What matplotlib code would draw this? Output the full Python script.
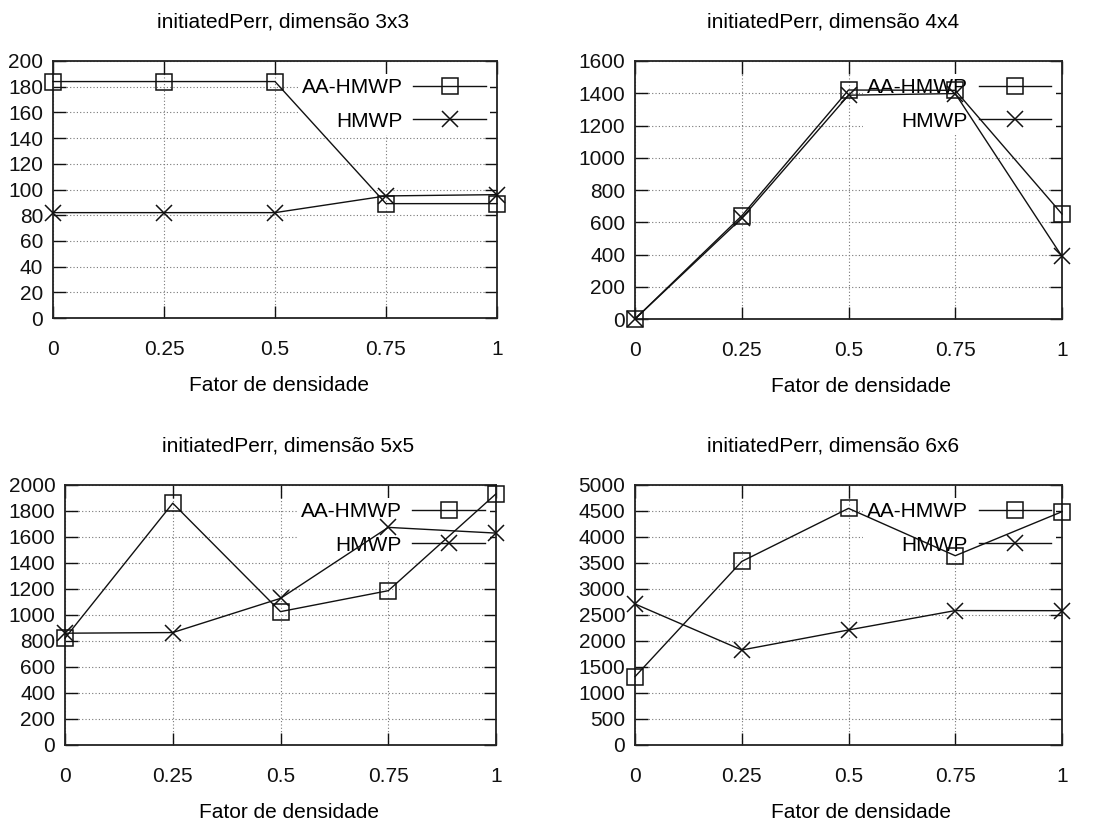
import matplotlib
matplotlib.use('Agg')
import matplotlib.pyplot as plt

plt.rcParams['font.family'] = ['Liberation Sans', 'DejaVu Sans']

x = [0, 0.25, 0.5, 0.75, 1]
xtick_labels = ['0', '0.25', '0.5', '0.75', '1']

titles = ['initiatedPerr, dimensão 3x3', 'initiatedPerr, dimensão 4x4',
          'initiatedPerr, dimensão 5x5', 'initiatedPerr, dimensão 6x6']

aa_3x3 = [184, 184, 184, 89, 89]
hm_3x3 = [82, 82, 82, 95, 96]
aa_4x4 = [0, 640, 1420, 1418, 651]
hm_4x4 = [0, 625, 1388, 1398, 388]
aa_5x5 = [822, 1860, 1026, 1187, 1932]
hm_5x5 = [860, 865, 1128, 1674, 1630]
aa_6x6 = [1314, 3530, 4550, 3640, 4487]
hm_6x6 = [2712, 1827, 2212, 2585, 2583]

ymax = [200, 1600, 2000, 5000]
ystep = [20, 200, 200, 500]

#########################
# layout in pixels (left, right, top, bottom) and title position
#########################
W, H = 1094, 825
boxes = [(53, 497, 61, 318), (635, 1062, 61, 319),
         (65, 496, 485, 745), (635, 1062, 485, 745)]
title_x = [0.518, 0.464, 0.517, 0.464]
xlabel_x = [0.51, 0.53, 0.52, 0.53]

def plot_panel(fig, i, aa, hm):
    l, r, t, b = boxes[i]
    ax = fig.add_axes([l / W, (H - b) / H, (r - l) / W, (b - t) / H])
    ax.set_axisbelow(True)
    ax.grid(True, linestyle=(0, (1, 2)), color='#777777', linewidth=0.8)
    ax.plot(x, aa, color='#111111', linewidth=1.0, marker='s', markersize=11,
            markerfacecolor='none', markeredgecolor='#111111',
            markeredgewidth=1.1, label='AA-HMWP', zorder=3, clip_on=False)
    ax.plot(x, hm, color='#111111', linewidth=1.0, marker='x', markersize=12,
            markeredgewidth=1.1, label='HMWP', zorder=3, clip_on=False)
    ax.set_xlim(0, 1)
    ax.set_ylim(0, ymax[i])
    ax.set_xticks(x)
    ax.set_xticklabels(xtick_labels)
    ax.set_yticks(range(0, ymax[i] + 1, ystep[i]))
    ax.tick_params(direction='in', length=9, width=1.0, top=True, right=True,
                   labelsize=15, colors='#111111')
    ax.tick_params(axis='x', pad=16)
    ax.tick_params(axis='y', pad=7)
    for s in ax.spines.values():
        s.set_linewidth(1.3)
        s.set_color('#222222')
    ax.set_title(titles[i], fontsize=15, x=title_x[i], pad=24)
    ax.set_xlabel('Fator de densidade', fontsize=15)
    ax.xaxis.set_label_coords(xlabel_x[i], -0.225)
    leg = ax.legend(loc='upper right', bbox_to_anchor=(0.985, 0.95),
                    borderaxespad=0, markerfirst=False, handlelength=3.5,
                    handletextpad=0.5, labelspacing=0.7, fontsize=15,
                    frameon=True, fancybox=False, framealpha=1.0,
                    edgecolor='none', facecolor='white', borderpad=0.2)
    leg.set_zorder(1)
    return ax

def main():
    fig = plt.figure(figsize=(W / 100, H / 100), dpi=100)
    plot_panel(fig, 0, aa_3x3, hm_3x3)
    plot_panel(fig, 1, aa_4x4, hm_4x4)
    plot_panel(fig, 2, aa_5x5, hm_5x5)
    plot_panel(fig, 3, aa_6x6, hm_6x6)
    fig.savefig('out.png', dpi=100)

main()
